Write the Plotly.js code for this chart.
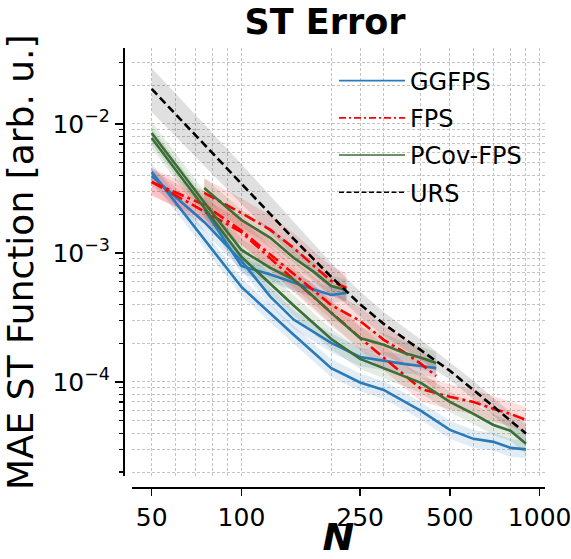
<!DOCTYPE html>
<html>
<head>
<meta charset="utf-8">
<script src="https://cdn.plot.ly/plotly-3.0.1.min.js"></script>
<style>html,body{margin:0;padding:0;background:#fff;}#chart{width:571px;height:559px;}</style>
</head>
<body>
<div id="chart"></div>
<script>
// ---- N grids ----
const nA = [75, 100, 125, 150, 175, 200, 225];
const nB = [50, 75, 100, 125, 150, 175, 200, 250, 300, 350, 400, 450];
const nC = [50, 100, 150, 200, 250, 300, 400, 500, 600, 700, 800, 900];

// ---- GGFPS ----
const ggfpsA    = [2.19e-3, 7.93e-4, 6.8e-4, 5.85e-4, 5.2e-4, 4.72e-4, 4.9e-4];
const ggfpsA_lo = [1.90e-3, 6.9e-4, 5.9e-4, 5.09e-4, 4.52e-4, 4.1e-4, 4.26e-4];
const ggfpsA_hi = [2.52e-3, 9.12e-4, 7.82e-4, 6.73e-4, 5.98e-4, 5.43e-4, 5.64e-4];
const ggfpsB    = [3.95e-3, 1.74e-3, 8.67e-4, 4.59e-4, 3.03e-4, 2.44e-4, 2.01e-4, 1.56e-4, 1.45e-4, 1.38e-4, 1.33e-4, 1.28e-4];
const ggfpsB_lo = [3.35e-3, 1.47e-3, 7.35e-4, 3.89e-4, 2.57e-4, 2.07e-4, 1.70e-4, 1.32e-4, 1.23e-4, 1.17e-4, 1.13e-4, 1.08e-4];
const ggfpsB_hi = [4.66e-3, 2.05e-3, 1.02e-3, 5.42e-4, 3.58e-4, 2.88e-4, 2.37e-4, 1.84e-4, 1.71e-4, 1.63e-4, 1.57e-4, 1.51e-4];
const ggfpsC    = [4.25e-3, 5.45e-4, 2.31e-4, 1.28e-4, 9.9e-5, 8.67e-5, 5.96e-5, 4.25e-5, 3.62e-5, 3.43e-5, 3.08e-5, 3.0e-5];
const ggfpsC_lo = [3.63e-3, 4.66e-4, 1.97e-4, 1.09e-4, 8.46e-5, 7.41e-5, 5.09e-5, 3.63e-5, 3.09e-5, 2.93e-5, 2.63e-5, 2.56e-5];
const ggfpsC_hi = [4.97e-3, 6.38e-4, 2.70e-4, 1.50e-4, 1.16e-4, 1.01e-4, 6.97e-5, 4.97e-5, 4.24e-5, 4.01e-5, 3.60e-5, 3.51e-5];

// ---- FPS ----
const fpsA    = [2.92e-3, 2.04e-3, 1.51e-3, 1.09e-3, 7.93e-4, 6.07e-4, 5.35e-4];
const fpsA_lo = [2.25e-3, 1.57e-3, 1.16e-3, 8.38e-4, 6.1e-4, 4.67e-4, 4.12e-4];
const fpsA_hi = [3.8e-3, 2.65e-3, 1.96e-3, 1.42e-3, 1.03e-3, 7.89e-4, 6.96e-4];
const fpsB    = [3.55e-3, 2.36e-3, 1.49e-3, 9.7e-4, 6.9e-4, 5.08e-4, 3.95e-4, 2.97e-4, 2.12e-4, 1.71e-4, 1.38e-4, 1.11e-4];
const fpsB_lo = [2.77e-3, 1.84e-3, 1.16e-3, 7.58e-4, 5.39e-4, 3.97e-4, 3.09e-4, 2.32e-4, 1.66e-4, 1.34e-4, 1.08e-4, 8.67e-5];
const fpsB_hi = [4.54e-3, 3.02e-3, 1.91e-3, 1.24e-3, 8.83e-4, 6.5e-4, 5.06e-4, 3.8e-4, 2.71e-4, 2.19e-4, 1.77e-4, 1.42e-4];
const fpsC    = [3.55e-3, 1.45e-3, 6.18e-4, 3.43e-4, 2.2e-4, 1.54e-4, 8.83e-5, 7.66e-5, 7.0e-5, 6.18e-5, 5.65e-5, 5.07e-5];
const fpsC_lo = [2.84e-3, 1.16e-3, 4.94e-4, 2.74e-4, 1.76e-4, 1.23e-4, 7.06e-5, 6.13e-5, 5.6e-5, 4.94e-5, 4.52e-5, 4.06e-5];
const fpsC_hi = [4.44e-3, 1.81e-3, 7.73e-4, 4.29e-4, 2.75e-4, 1.93e-4, 1.10e-4, 9.58e-5, 8.75e-5, 7.73e-5, 7.06e-5, 6.34e-5];

// ---- PCov-FPS ----
const pcovA    = [3.19e-3, 1.80e-3, 1.31e-3, 9.14e-4, 7.13e-4, 5.54e-4, 5.17e-4];
const pcovA_lo = [2.66e-3, 1.5e-3, 1.09e-3, 7.62e-4, 5.94e-4, 4.62e-4, 4.31e-4];
const pcovA_hi = [3.83e-3, 2.16e-3, 1.57e-3, 1.10e-3, 8.56e-4, 6.65e-4, 6.2e-4];
const pcovB    = [8.52e-3, 2.47e-3, 1.055e-3, 7.65e-4, 6.18e-4, 4.56e-4, 3.43e-4, 2.19e-4, 1.94e-4, 1.68e-4, 1.54e-4, 1.40e-4];
const pcovB_lo = [6.98e-3, 2.02e-3, 8.65e-4, 6.27e-4, 5.07e-4, 3.74e-4, 2.81e-4, 1.80e-4, 1.59e-4, 1.38e-4, 1.26e-4, 1.15e-4];
const pcovB_hi = [1.04e-2, 3.01e-3, 1.29e-3, 9.33e-4, 7.54e-4, 5.56e-4, 4.18e-4, 2.67e-4, 2.37e-4, 2.05e-4, 1.88e-4, 1.71e-4];
const pcovC    = [7.79e-3, 9.31e-4, 3.9e-4, 2.15e-4, 1.51e-4, 1.28e-4, 9.83e-5, 7.0e-5, 5.65e-5, 4.64e-5, 4.17e-5, 3.31e-5];
const pcovC_lo = [6.49e-3, 7.76e-4, 3.25e-4, 1.79e-4, 1.26e-4, 1.07e-4, 8.19e-5, 5.83e-5, 4.71e-5, 3.87e-5, 3.48e-5, 2.76e-5];
const pcovC_hi = [9.35e-3, 1.12e-3, 4.68e-4, 2.58e-4, 1.81e-4, 1.54e-4, 1.18e-4, 8.4e-5, 6.78e-5, 5.57e-5, 5.0e-5, 3.97e-5];

// ---- URS ----
const urs    = [1.87e-2, 3.43e-3, 1.28e-3, 6.52e-4, 4.0e-4, 2.82e-4, 1.77e-4, 1.22e-4, 8.67e-5, 6.4e-5, 4.99e-5, 3.99e-5];
const urs_lo = [1.24e-2, 2.4e-3, 9.4e-4, 5.08e-4, 3.18e-4, 2.28e-4, 1.48e-4, 1.04e-4, 7.4e-5, 5.46e-5, 4.26e-5, 3.4e-5];
const urs_hi = [2.72e-2, 4.9e-3, 1.74e-3, 8.37e-4, 5.03e-4, 3.49e-4, 2.12e-4, 1.43e-4, 1.02e-4, 7.5e-5, 5.85e-5, 4.68e-5];

// ---- axis ticks ----
const xTickVals = [50, 100, 250, 500, 1000];
const xTickText = ['50', '100', '250', '500', '1000'];
const xMinorVals = [60, 70, 80, 90, 200, 300, 400, 600, 700, 800, 900];
const yTickVals = [1e-4, 1e-3, 1e-2];
const yTickText = ['10<sup>−4</sup>', '10<sup>−3</sup>', '10<sup>−2</sup>'];
const yMinorVals = [2e-5,3e-5,4e-5,5e-5,6e-5,7e-5,8e-5,9e-5,2e-4,3e-4,4e-4,5e-4,6e-4,7e-4,8e-4,9e-4,2e-3,3e-3,4e-3,5e-3,6e-3,7e-3,8e-3,9e-3,2e-2,3e-2];

const methods = ['ggfps', 'fps', 'pcov', 'urs'];
const COL = {
  ggfps: {line: '#2a7ab9', fill: 'rgba(42,122,185,0.14)', dash: 'solid', legDash: 'solid', name: 'GGFPS'},
  fps:   {line: '#ff0000', fill: 'rgba(255,0,0,0.13)', dash: '12px,4px,3px,4px', legDash: '7px,3px,2px,3px', name: 'FPS'},
  pcov:  {line: '#3c6e37', fill: 'rgba(60,110,55,0.14)', dash: 'solid', legDash: 'solid', name: 'PCov-FPS'},
  urs:   {line: '#000000', fill: 'rgba(0,0,0,0.12)', dash: '8px,4px', legDash: '5px,2.5px', name: 'URS'}
};

const series = [
  ['ggfps', nA, ggfpsA, ggfpsA_lo, ggfpsA_hi],
  ['ggfps', nB, ggfpsB, ggfpsB_lo, ggfpsB_hi],
  ['ggfps', nC, ggfpsC, ggfpsC_lo, ggfpsC_hi],
  ['fps', nA, fpsA, fpsA_lo, fpsA_hi],
  ['fps', nB, fpsB, fpsB_lo, fpsB_hi],
  ['fps', nC, fpsC, fpsC_lo, fpsC_hi],
  ['pcov', nA, pcovA, pcovA_lo, pcovA_hi],
  ['pcov', nB, pcovB, pcovB_lo, pcovB_hi],
  ['pcov', nC, pcovC, pcovC_lo, pcovC_hi],
  ['urs', nC, urs, urs_lo, urs_hi]
];

const bands = series.map(([k, x, y, lo, hi]) => ({
  type: 'scatter', mode: 'lines',
  x: x.concat(x.slice().reverse()),
  y: hi.concat(lo.slice().reverse()),
  fill: 'toself', fillcolor: COL[k].fill,
  line: {width: 0}, hoverinfo: 'skip', showlegend: false
}));
const lines = series.map(([k, x, y]) => ({
  type: 'scatter', mode: 'lines', x: x, y: y,
  name: COL[k].name, legendgroup: k, showlegend: false,
  line: {color: COL[k].line, width: 2.6, dash: COL[k].dash}
}));
// legend-only entries (thinner sample lines, as in the reference legend)
const legendEntries = methods.map((k, i) => ({
  type: 'scatter', mode: 'lines', x: [null], y: [null],
  name: COL[k].name, legendgroup: k, legendrank: i + 1, showlegend: true,
  line: {color: COL[k].line, width: 1.6, dash: COL[k].legDash}
}));

const gridStyle = {gridcolor: '#c4c4c4', gridwidth: 1, griddash: '3px,2px'};
const F = 'DejaVu Sans, sans-serif';

const layout = {
  width: 571, height: 559,
  margin: {l: 123, r: 26, t: 48, b: 72},
  paper_bgcolor: '#fff', plot_bgcolor: '#fff',
  showlegend: true,
  title: {text: '<b>ST Error</b>', font: {family: F, size: 35, color: '#000'},
          x: 325/571, xref: 'container', xanchor: 'center', y: 1 - 22/559, yref: 'container', yanchor: 'middle'},
  xaxis: {
    type: 'log', range: [1.633, 3.018], domain: [0.0213, 1],
    anchor: 'free', position: 0,
    tickvals: xTickVals, ticktext: xTickText,
    ticks: 'outside', ticklen: 7, tickwidth: 1.5, tickcolor: '#000',
    ticklabeloverflow: 'allow',
    showline: true, linecolor: '#000', linewidth: 1.8,
    showgrid: true, ...gridStyle,
    minor: {tickvals: xMinorVals, ticks: '', showgrid: true, ...gridStyle},
    tickfont: {family: F, size: 25, color: '#000'},
    zeroline: false,
    title: {text: '<b><i>N</i></b>', font: {family: F, size: 38, color: '#000'}, standoff: 6}
  },
  yaxis: {
    type: 'log', range: [-4.733, -1.411], domain: [0.024, 1],
    anchor: 'free', position: 0,
    tickvals: yTickVals, ticktext: yTickText,
    ticks: 'outside', ticklen: 8, tickwidth: 1.5, tickcolor: '#000',
    showline: true, linecolor: '#000', linewidth: 1.8,
    showgrid: true, ...gridStyle,
    minor: {tickvals: yMinorVals, ticks: 'outside', ticklen: 4, tickwidth: 1.2, tickcolor: '#000', showgrid: true, ...gridStyle},
    tickfont: {family: F, size: 25, color: '#000'},
    zeroline: false,
    title: {text: 'MAE ST Function [arb. u.]', font: {family: F, size: 36, color: '#000'}, standoff: 10}
  },
  legend: {
    x: 0.5, xanchor: 'left', y: 0.976, yanchor: 'top',
    bgcolor: 'rgba(0,0,0,0)', borderwidth: 0,
    font: {family: F, size: 24, color: '#000'},
    itemwidth: 66,
    tracegroupgap: 3, traceorder: 'grouped'
  }
};

Plotly.newPlot('chart', bands.concat(lines, legendEntries), layout, {displayModeBar: false, staticPlot: true});
</script>
</body>
</html>
